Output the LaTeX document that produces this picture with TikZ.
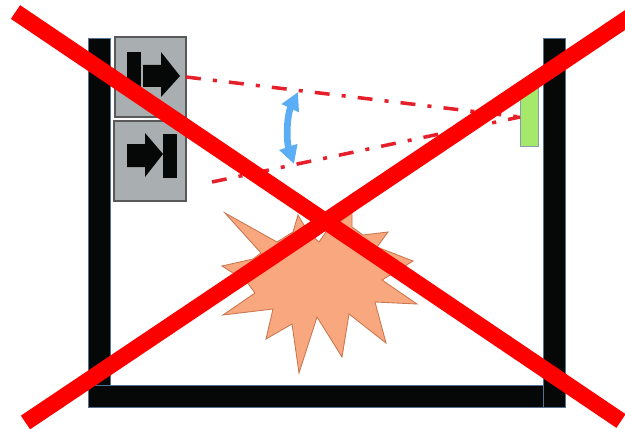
\documentclass[tikz,border=0pt]{standalone}
\usepackage{xcolor}
\usetikzlibrary{arrows.meta}
\definecolor{wallblack}{HTML}{060808}
\definecolor{walledge}{HTML}{54718F}
\definecolor{boxgray}{HTML}{A9AEB0}
\definecolor{blastfill}{HTML}{F9A77F}
\definecolor{blastedge}{HTML}{C87850}
\definecolor{sensorgreen}{HTML}{A6E86A}
\definecolor{beamred}{HTML}{E5202A}
\definecolor{swingblue}{HTML}{5BAEF5}
\tikzset{
  wall/.style={fill=wallblack, draw=walledge, line width=0.5pt},
  unitbox/.style={fill=boxgray, draw=black!65, line width=0.6pt},
  glyph/.style={fill=wallblack},
  beam/.style={beamred, line width=2pt, dash pattern=on 8.5pt off 6.9pt on 2.3pt off 6.9pt},
  crossbar/.style={red, line width=0.33cm}
}

\begin{document}
\begin{tikzpicture}[x=0.02cm, y=-0.02cm]
    \useasboundingbox (0,0) rectangle (625,429);

    % walls
    \draw[wall] (88,38) rectangle (110,385);
    \draw[wall] (543,38) rectangle (565,407);
    \draw[wall] (88,385) rectangle (543,407);

    % units
    \draw[unitbox] (115,37) rectangle (186,117);
    \draw[unitbox] (114,121) rectangle (186,201);

    % glyphs
    \fill[glyph] (127,52) rectangle (141,97);
    \fill[glyph] (143,65) -- (161,65) -- (161,52) -- (180,76) -- (161,97) -- (161,87) -- (143,87) -- cycle;
    \fill[glyph] (127,144) -- (145,144) -- (145,133) -- (163,154) -- (145,177) -- (145,167) -- (127,167) -- cycle;
    \fill[glyph] (163,134) rectangle (177,178);

    % sensor
    \draw[fill=sensorgreen, draw=walledge!70, line width=0.5pt] (520,88) rectangle (538,146);

    % beams
    \coordinate (emit top) at (186,77);
    \coordinate (emit low) at (212,182);
    \coordinate (target) at (520,117);
    \draw[beam] (emit top) -- (target);
    \draw[beam] (emit low) -- (target);

    % swing angle
    \coordinate (swing top) at (298,92);
    \coordinate (swing low) at (294,164);
    \draw[swingblue, line width=3.8pt, {Triangle[width=0.36cm,length=0.36cm]}-{Triangle[width=0.36cm,length=0.36cm]}]
        (swing top) .. controls (287,115) and (286,140) .. (swing low);

    % blast
    \draw[fill=blastfill, draw=blastedge, line width=0.5pt]
        (225,213) -- (277,242) -- (293,232) -- (298,215) -- (308,232) -- (319,242)
        -- (326,232) -- (352,213) -- (352,227) -- (363,235) -- (388,232) -- (377,247)
        -- (413,261) -- (382,280) -- (417,304) -- (375,302) -- (386,343) -- (349,314)
        -- (342,357) -- (317,317) -- (299,373) -- (292,324) -- (266,339) -- (273,309)
        -- (223,315) -- (255,293) -- (247,282) -- (222,266) -- (253,259) -- (261,253) -- cycle;

    % cross
    \draw[crossbar] (15.5,12) -- (621,421);
    \draw[crossbar] (25.5,422.5) -- (640,10);
\end{tikzpicture}
\end{document}
